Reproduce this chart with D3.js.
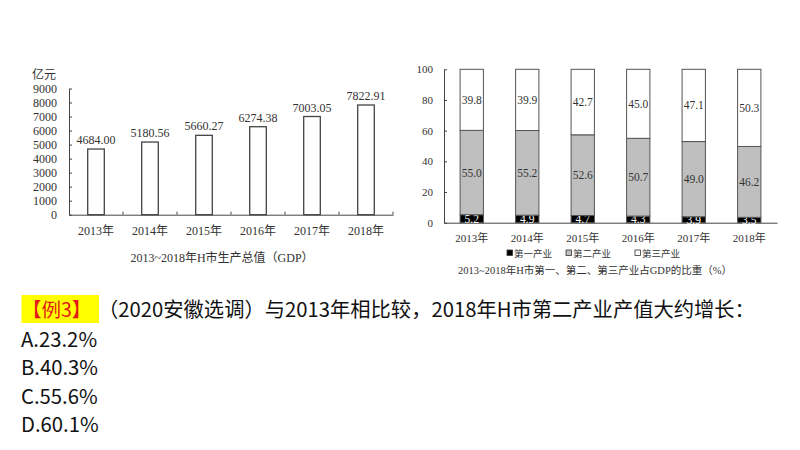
<!DOCTYPE html>
<html>
<head>
<meta charset="utf-8">
<script src="https://cdn.jsdelivr.net/npm/d3@7"></script>
<style>
  body { margin: 0; background: #fff; }
  svg { display: block; }
  .serif { font-family: "Liberation Serif", "Noto Sans CJK SC", serif; fill: #333; }
  .sans { font-family: "Noto Sans CJK SC", "Noto Sans", sans-serif; fill: #111; }
  .axis path, .axis line { stroke: #444; }
</style>
</head>
<body>
<svg width="800" height="450"></svg>
<script>
// left chart: H city GDP, 100 million yuan
const years = ["2013年", "2014年", "2015年", "2016年", "2017年", "2018年"];
const gdp = [4684.00, 5180.56, 5660.27, 6274.38, 7003.05, 7822.91];
const gdpTicks = [0, 1000, 2000, 3000, 4000, 5000, 6000, 7000, 8000, 9000];

// right chart: share of industries (%)
const primary = [5.2, 4.9, 4.7, 4.3, 3.9, 3.5];
const secondary = [55.0, 55.2, 52.6, 50.7, 49.0, 46.2];
const tertiary = [39.8, 39.9, 42.7, 45.0, 47.1, 50.3];
const shareTicks = [0, 20, 40, 60, 80, 100];
const industries = ["第一产业", "第二产业", "第三产业"];
const industryColors = ["#000000", "#bfbfbf", "#ffffff"];

const options = ["A.23.2%", "B.40.3%", "C.55.6%", "D.60.1%"];

const svg = d3.select("svg");
svg.append("rect").attr("width", 800).attr("height", 450).attr("fill", "#fff");

// ---------- left chart ----------
const x1 = d3.scaleBand().domain(years).range([69, 393]);
const y1 = d3.scaleLinear().domain([0, 9000]).range([214.7, 88.5]);
const bar1 = 16.6;

const left = svg.append("g");

left.append("g")
  .attr("class", "axis serif")
  .attr("transform", "translate(69,0)")
  .call(d3.axisLeft(y1).tickValues(gdpTicks).tickFormat(d3.format("d"))
    .tickSizeInner(-3).tickSizeOuter(0).tickPadding(12))
  .call(g => g.selectAll("text").attr("font-size", 12).attr("fill", "#333"))
  .attr("font-family", null);

left.append("g")
  .attr("class", "axis serif")
  .attr("transform", "translate(0," + y1(0) + ")")
  .call(d3.axisBottom(x1).tickSize(0).tickPadding(12))
  .call(g => g.selectAll("text").attr("font-size", 12).attr("fill", "#333"))
  .attr("font-family", null);

// boundary ticks between categories
left.selectAll(".btick")
  .data(years)
  .enter()
  .append("line")
  .attr("x1", d => x1(d) + x1.bandwidth())
  .attr("x2", d => x1(d) + x1.bandwidth())
  .attr("y1", y1(0))
  .attr("y2", y1(0) - 3)
  .attr("stroke", "#444");

left.selectAll(".bar")
  .data(gdp)
  .enter()
  .append("rect")
  .attr("x", (d, i) => x1(years[i]) + x1.bandwidth() / 2 - bar1 / 2)
  .attr("y", d => y1(d))
  .attr("width", bar1)
  .attr("height", d => y1(0) - y1(d))
  .attr("fill", "#fff")
  .attr("stroke", "#444")
  .attr("stroke-width", 1.3);

left.selectAll(".val")
  .data(gdp)
  .enter()
  .append("text")
  .attr("class", "serif")
  .attr("x", (d, i) => x1(years[i]) + x1.bandwidth() / 2)
  .attr("y", d => y1(d) - 5)
  .attr("text-anchor", "middle")
  .attr("font-size", 12)
  .text(d => d.toFixed(2));

left.append("text")
  .attr("class", "serif")
  .attr("x", 32)
  .attr("y", 79)
  .attr("font-size", 12)
  .text("亿元");

left.append("text")
  .attr("class", "serif")
  .attr("x", 222)
  .attr("y", 262)
  .attr("text-anchor", "middle")
  .attr("font-size", 12)
  .text("2013~2018年H市生产总值（GDP）");

// ---------- right chart ----------
const x2 = d3.scaleBand().domain(years).range([444, 777]);
const y2 = d3.scaleLinear().domain([0, 100]).range([222.7, 69.3]);
const bar2 = 23.3;

const right = svg.append("g");

right.append("g")
  .attr("class", "axis serif")
  .attr("transform", "translate(444,0)")
  .call(d3.axisLeft(y2).tickValues(shareTicks).tickSizeInner(-3).tickSizeOuter(0).tickPadding(11))
  .call(g => g.selectAll("text").attr("font-size", 11).attr("fill", "#333"))
  .attr("font-family", null);

right.append("g")
  .attr("class", "axis serif")
  .attr("transform", "translate(0," + y2(0) + ")")
  .call(d3.axisBottom(x2).tickSize(0).tickPadding(11.5))
  .call(g => g.selectAll("text").attr("font-size", 11).attr("fill", "#333"))
  .attr("font-family", null);

const rows = years.map((yr, i) => ({ year: yr, a: primary[i], b: secondary[i], c: tertiary[i] }));
const stack = d3.stack().keys(["a", "b", "c"])(rows);

const layers = right.selectAll(".layer")
  .data(stack)
  .enter()
  .append("g")
  .attr("fill", (d, i) => industryColors[i]);

layers.selectAll("rect")
  .data(d => d)
  .enter()
  .append("rect")
  .attr("x", d => x2(d.data.year) + x2.bandwidth() / 2 - bar2 / 2)
  .attr("y", d => y2(d[1]))
  .attr("width", bar2)
  .attr("height", d => y2(d[0]) - y2(d[1]))
  .attr("stroke", "#555")
  .attr("stroke-width", 1);

layers.each(function (layer, li) {
  d3.select(this).selectAll("text")
    .data(layer)
    .enter()
    .append("text")
    .attr("class", "serif")
    .attr("x", d => x2(d.data.year) + x2.bandwidth() / 2)
    .attr("y", d => y2((d[0] + d[1]) / 2))
    .attr("dy", "0.35em")
    .attr("text-anchor", "middle")
    .attr("font-size", 11.5)
    .style("fill", li === 0 ? "#fff" : "#333")
    .text(d => (d[1] - d[0]).toFixed(1));
});

// legend
const legendX = [507, 566, 635];
const legend = right.selectAll(".leg")
  .data(industries)
  .enter()
  .append("g")
  .attr("transform", (d, i) => "translate(" + legendX[i] + ",253)");

legend.append("rect")
  .attr("x", 0)
  .attr("y", -3)
  .attr("width", 5.5)
  .attr("height", 5.5)
  .attr("fill", (d, i) => industryColors[i])
  .attr("stroke", "#333")
  .attr("stroke-width", 0.8);

legend.append("text")
  .attr("class", "serif")
  .attr("x", 7)
  .attr("y", 3.5)
  .attr("font-size", 9.5)
  .text(d => d);

right.append("text")
  .attr("class", "serif")
  .attr("x", 595)
  .attr("y", 274)
  .attr("text-anchor", "middle")
  .attr("font-size", 10.5)
  .text("2013~2018年H市第一、第二、第三产业占GDP的比重（%）");

// ---------- question text ----------
svg.append("rect")
  .attr("x", 21.5)
  .attr("y", 295)
  .attr("width", 77.5)
  .attr("height", 28)
  .attr("fill", "#ffff00");

svg.append("text")
  .attr("class", "sans")
  .attr("x", 22)
  .attr("y", 317)
  .attr("font-size", 19.5)
  .style("fill", "#e21a1a")
  .text("【例3】");

svg.append("text")
  .attr("class", "sans")
  .attr("x", 98)
  .attr("y", 317)
  .attr("font-size", 20.3)
  .text("（2020安徽选调）与2013年相比较，2018年H市第二产业产值大约增长：");

svg.selectAll(".opt")
  .data(options)
  .enter()
  .append("text")
  .attr("class", "sans")
  .attr("x", 21)
  .attr("y", (d, i) => 347 + i * 28.4)
  .attr("font-size", 20.3)
  .text(d => d);
</script>
</body>
</html>
